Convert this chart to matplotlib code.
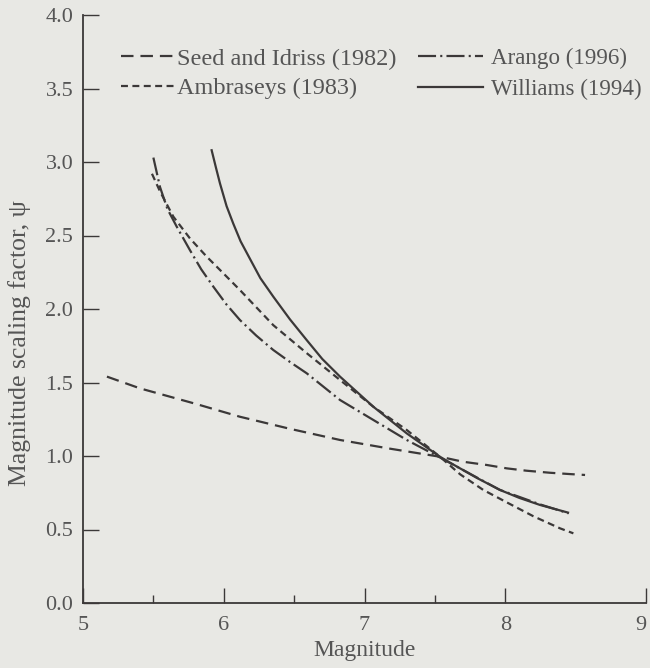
import matplotlib
matplotlib.use("Agg")
import matplotlib.pyplot as plt
import matplotlib.transforms as mtransforms
from matplotlib.ticker import FixedLocator

# ---- data ----
seed_x = [5.17, 5.405, 5.80, 6.115, 6.47, 6.826, 7.18, 7.536, 7.70, 7.868, 8.01, 8.15, 8.318, 8.46, 8.567]
seed_y = [1.54, 1.46, 1.355, 1.267, 1.185, 1.109, 1.05, 0.995, 0.961, 0.939, 0.916, 0.90, 0.886, 0.877, 0.871]

amb_x = [5.49, 5.547, 5.642, 5.76, 5.879, 6.0, 6.115, 6.352, 6.589, 6.826, 7.063, 7.30, 7.536, 7.68, 7.844, 8.01, 8.20, 8.389, 8.484]
amb_y = [2.92, 2.80, 2.628, 2.48, 2.356, 2.24, 2.129, 1.89, 1.70, 1.517, 1.335, 1.177, 0.995, 0.875, 0.769, 0.685, 0.59, 0.508, 0.474]

arango_x = [5.50, 5.547, 5.60, 5.666, 5.76, 5.84, 5.926, 6.02, 6.115, 6.23, 6.352, 6.47, 6.589, 6.826, 7.063, 7.30, 7.536, 7.96, 8.25, 8.45]
arango_y = [3.03, 2.83, 2.68, 2.56, 2.40, 2.27, 2.152, 2.03, 1.925, 1.82, 1.721, 1.64, 1.563, 1.381, 1.245, 1.109, 0.99, 0.77, 0.67, 0.61]

will_x = [5.914, 5.945, 5.973, 6.02, 6.068, 6.12, 6.187, 6.26, 6.352, 6.47, 6.589, 6.70, 6.826, 7.063, 7.30, 7.536, 7.607, 7.80, 7.963, 8.10, 8.247, 8.446]
will_y = [3.08, 2.96, 2.855, 2.70, 2.58, 2.46, 2.34, 2.21, 2.084, 1.93, 1.789, 1.66, 1.54, 1.335, 1.154, 0.995, 0.955, 0.85, 0.769, 0.715, 0.667, 0.615]

labels = ["Seed and Idriss (1982)", "Ambraseys (1983)", "Arango (1996)", "Williams (1994)"]
x_major = [5, 6, 7, 8, 9]
x_minor = [5.5, 6.5, 7.5]
y_ticks = [0.0, 0.5, 1.0, 1.5, 2.0, 2.5, 3.0, 3.5, 4.0]

# ---- style ----
BG = "#e8e8e4"
LC = "#3b3838"
TC = "#555555"
plt.rcParams["font.family"] = ["Liberation Serif", "DejaVu Serif"]
plt.rcParams["lines.scale_dashes"] = False

fig = plt.figure(figsize=(6.5, 6.68), dpi=100, facecolor=BG)
ax = fig.add_axes([83 / 650, 65 / 668, 563 / 650, 588 / 668])
ax.set_facecolor(BG)

l_seed, = ax.plot(seed_x, seed_y, color=LC, lw=1.6, dashes=(9, 5), label=labels[0])
l_amb, = ax.plot(amb_x, amb_y, color=LC, lw=1.6, dashes=(5, 3.2), label=labels[1])
l_ara, = ax.plot(arango_x, arango_y, color=LC, lw=1.6, dashes=(13, 3, 1.5, 3), label=labels[2])
l_wil, = ax.plot(will_x, will_y, color=LC, lw=1.6, label=labels[3])

ax.set_xlim(5, 9)
ax.set_ylim(0, 4)
ax.xaxis.set_major_locator(FixedLocator(x_major))
ax.xaxis.set_minor_locator(FixedLocator(x_minor))
ax.yaxis.set_major_locator(FixedLocator(y_ticks))
ax.set_yticklabels([f"{v:.1f}" for v in y_ticks])
ax.set_xticklabels([str(v) for v in x_major])

for s in ["top", "right"]:
    ax.spines[s].set_visible(False)
for s in ["left", "bottom"]:
    ax.spines[s].set_color(LC)
    ax.spines[s].set_linewidth(1.3)

ax.tick_params(axis="x", which="major", direction="in", length=11, width=1, color=LC,
               labelsize=16, labelcolor=TC, pad=9)
ax.tick_params(axis="x", which="minor", direction="in", length=6, width=1, color=LC)
ax.tick_params(axis="y", which="major", direction="in", length=11.5, width=1, color=LC,
               labelsize=16, labelcolor=TC, pad=7)

# keep the last x tick label ("9") inside the canvas
last = ax.get_xticklabels()[-1]
last.set_transform(last.get_transform() +
                   mtransforms.ScaledTranslation(-5 / 100, 0, fig.dpi_scale_trans))

ax.set_xlabel("Magnitude", fontsize=17, color=TC, labelpad=4)
ax.set_ylabel("Magnitude scaling factor, \u03c8", fontsize=18.5, color=TC)
ax.yaxis.set_label_coords(-0.092, 0.442)

common = dict(loc="upper left", frameon=False, borderpad=0, borderaxespad=0)
leg1 = ax.legend([l_seed, l_amb], [labels[0], labels[1]],
                 bbox_to_anchor=((121 - 83) / 563, 0.944), fontsize=17.5,
                 handlelength=2.2, handletextpad=0.1, labelspacing=0.3, **common)
ax.add_artist(leg1)
leg2 = ax.legend([l_ara, l_wil], [labels[2], labels[3]],
                 bbox_to_anchor=((418 - 83) / 563, 0.944), fontsize=16.6,
                 handlelength=2.8, handletextpad=0.35, labelspacing=0.42, **common)
for lg in (leg1, leg2):
    for t in lg.get_texts():
        t.set_color(TC)

fig.savefig("out.png", dpi=100, facecolor=BG)
